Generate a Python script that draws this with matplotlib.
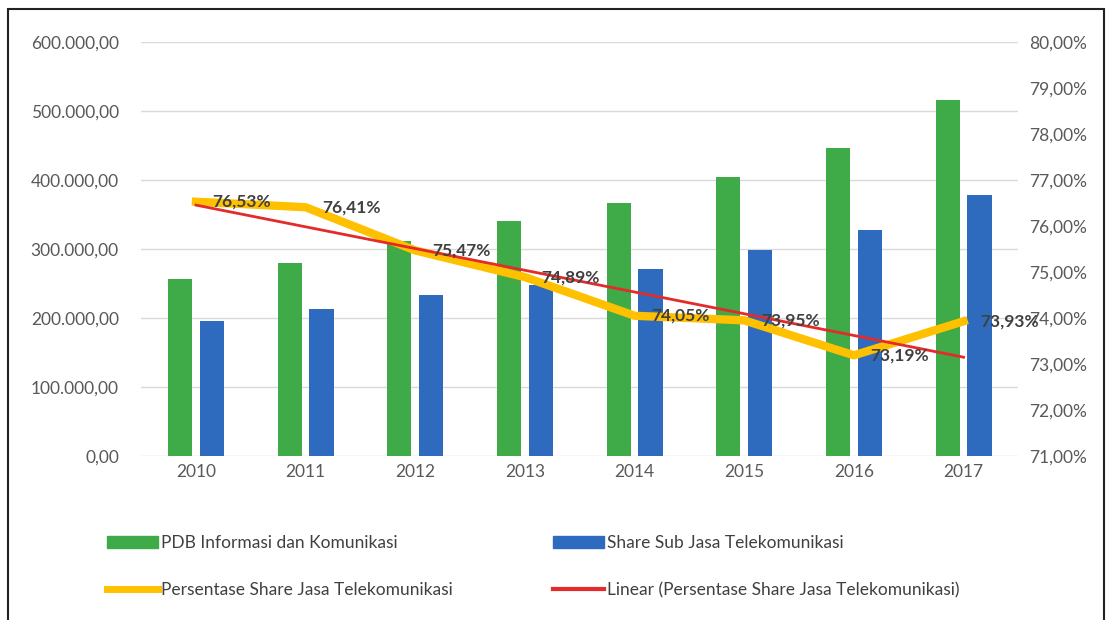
import numpy as np
import matplotlib
matplotlib.use("Agg")
import matplotlib.pyplot as plt
from matplotlib.patches import Patch, Rectangle
from matplotlib.lines import Line2D
from matplotlib.ticker import FuncFormatter

plt.rcParams['font.family'] = ['Lato', 'DejaVu Sans']

tahun = ['2010', '2011', '2012', '2013', '2014', '2015', '2016', '2017']
pdb_infokom = [256000, 280000, 312000, 340000, 367000, 404000, 446000, 516000]
share_telko = [196000, 213000, 234000, 248000, 271000, 299000, 328000, 379000]
persen_share = [76.53, 76.41, 75.47, 74.89, 74.05, 73.95, 73.19, 73.93]

hijau = '#3EAA48'
biru = '#2E6BBE'
kuning = '#FFC000'
merah = '#E52A2A'
abu = '#595959'

fig = plt.figure(figsize=(11.07, 6.20), dpi=100)
ax = fig.add_axes([0.1275, 0.2645, 0.7925, 0.6675])
ax2 = ax.twinx()

x = np.arange(len(tahun))
w = 0.22
ax.bar(x - 0.145, pdb_infokom, w, color=hijau, zorder=2)
ax.bar(x + 0.145, share_telko, w, color=biru, zorder=2)

ax.set_xlim(-0.5, len(tahun) - 0.5)
ax.set_ylim(0, 600000)
ax.set_yticks(np.arange(0, 600001, 100000))
ax.yaxis.set_major_formatter(FuncFormatter(
    lambda v, p: f"{v:,.2f}".replace(',', 'X').replace('.', ',').replace('X', '.')))
ax.set_xticks(x)
ax.set_xticklabels(tahun)
ax.grid(axis='y', color='#D9D9D9', lw=1, zorder=0)
ax.set_axisbelow(True)
ax.tick_params(axis='both', length=0, colors=abu, labelsize=12.5)
ax.tick_params(axis='y', pad=16)
ax.tick_params(axis='x', pad=6)
for s in ax.spines.values():
    s.set_visible(False)

# garis persentase + trend linear
ax2.plot(x, persen_share, color=kuning, lw=6, solid_joinstyle='round', zorder=3)
koef = np.polyfit(x, persen_share, 1)
ax2.plot(x, np.polyval(koef, x), color=merah, lw=2, zorder=4)
ax2.set_ylim(71, 80)
ax2.set_yticks(np.arange(71, 80.01, 1))
ax2.yaxis.set_major_formatter(FuncFormatter(lambda v, p: f"{v:.2f}%".replace('.', ',')))
ax2.tick_params(axis='y', length=0, colors=abu, labelsize=12.5, pad=8)
for s in ax2.spines.values():
    s.set_visible(False)
ax.set_zorder(1)
ax2.set_zorder(2)

for xi, yi in zip(x, persen_share):
    ax2.annotate(f"{yi:.2f}%".replace('.', ','), (xi, yi), xytext=(12, 0),
                 textcoords='offset points', ha='left', va='center',
                 fontsize=12.5, fontweight='bold', color='#404040', zorder=5)

# legenda
item = [
    (Patch(color=hijau), 'PDB Informasi dan Komunikasi', (0.089, 0.124)),
    (Patch(color=biru), 'Share Sub Jasa Telekomunikasi', (0.492, 0.124)),
    (Line2D([], [], color=kuning, lw=5), 'Persentase Share Jasa Telekomunikasi', (0.089, 0.048)),
    (Line2D([], [], color=merah, lw=3), 'Linear (Persentase Share Jasa Telekomunikasi)', (0.492, 0.048)),
]
for h, lab, pos in item:
    fig.legend([h], [lab], loc='center left', bbox_to_anchor=pos, frameon=False,
               fontsize=12.5, handlelength=2.9, handletextpad=0.2, borderpad=0,
               labelcolor='#404040')

fig.patches.append(Rectangle((8 / 1107, -0.1), 1096 / 1107, 1.1 - 9 / 620,
                             transform=fig.transFigure, fill=False,
                             edgecolor='#222222', lw=1.5))

fig.savefig('out.png', dpi=100)
